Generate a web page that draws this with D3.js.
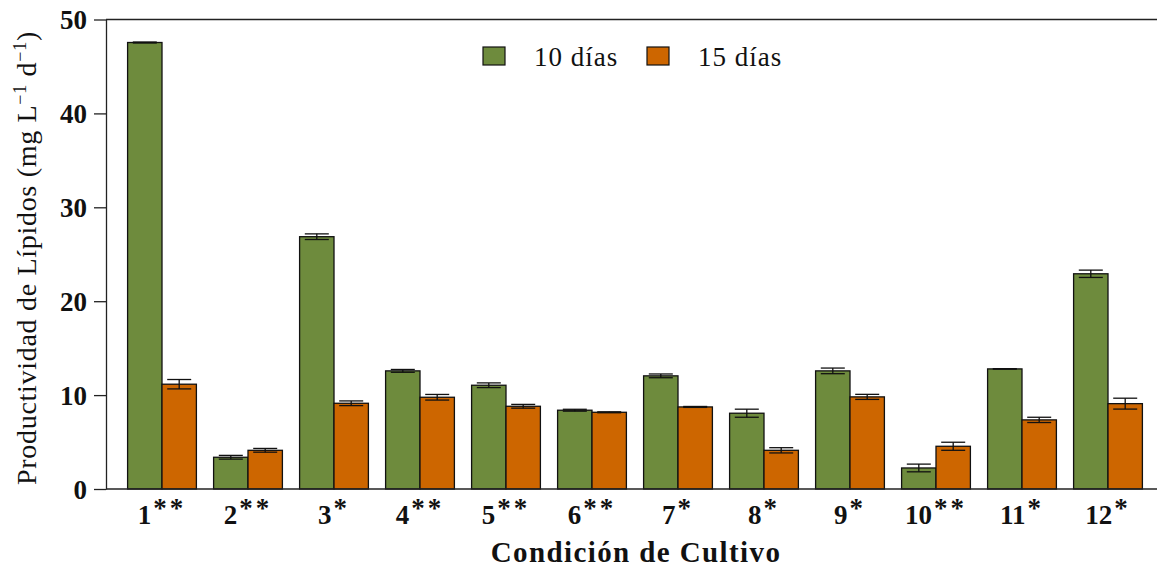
<!DOCTYPE html>
<html><head><meta charset="utf-8">
<script src="https://cdn.jsdelivr.net/npm/d3@7"></script>
<style>body{margin:0;background:#fff}svg{display:block}</style>
</head><body>
<svg id="c" width="1157" height="567"></svg>
<script>
const categories = ["1**","2**","3*","4**","5**","6**","7*","8*","9*","10**","11*","12*"];
const series = ["10 días","15 días"];
const values10 = [47.55,3.38,26.87,12.58,11.05,8.39,12.05,8.07,12.58,2.24,12.79,22.92];
const err10    = [0.05,0.2,0.3,0.15,0.25,0.1,0.2,0.43,0.3,0.41,0.03,0.39];
const values15 = [11.16,4.12,9.13,9.77,8.81,8.17,8.74,4.12,9.81,4.55,7.36,9.09];
const err15    = [0.5,0.2,0.25,0.3,0.2,0.05,0.05,0.28,0.27,0.43,0.28,0.58];
const yTicks = [0,10,20,30,40,50];
const colors = ["#6E8B3D","#CD6600"];
const FONT = "Liberation Serif, serif";

const svg = d3.select("#c");
const L = 106, R = 1160, T = 19.5, B = 489;
const y = d3.scaleLinear().domain([0,50]).range([B,T]);
const x = d3.scaleBand().domain(categories).range([119,1151]).paddingInner(0.2).paddingOuter(0.1);
const xs = d3.scaleBand().domain(series).range([0,x.bandwidth()]);

const data = categories.map((c,i)=>({c, vals:[{s:series[0],v:values10[i],e:err10[i]},{s:series[1],v:values15[i],e:err15[i]}]}));

const g = svg.selectAll("g.grp").data(data).join("g").attr("transform",d=>`translate(${x(d.c)},0)`);
g.selectAll("rect").data(d=>d.vals).join("rect")
  .attr("x",d=>xs(d.s)).attr("width",xs.bandwidth())
  .attr("y",d=>y(d.v)).attr("height",d=>B-y(d.v))
  .attr("fill",(d,i)=>colors[i]).attr("stroke","#111").attr("stroke-width",1.3);
const eb = g.selectAll("g.eb").data(d=>d.vals).join("g").attr("class","eb");
const cap = 12;
const cx = d=>xs(d.s)+xs.bandwidth()/2;
eb.append("line").attr("x1",cx).attr("x2",cx)
  .attr("y1",d=>y(d.v+d.e)).attr("y2",d=>y(d.v-d.e)).attr("stroke","#111").attr("stroke-width",1.3);
eb.append("line").attr("x1",d=>cx(d)-cap).attr("x2",d=>cx(d)+cap)
  .attr("y1",d=>y(d.v+d.e)).attr("y2",d=>y(d.v+d.e)).attr("stroke","#111").attr("stroke-width",1.3);
eb.append("line").attr("x1",d=>cx(d)-cap).attr("x2",d=>cx(d)+cap)
  .attr("y1",d=>y(d.v-d.e)).attr("y2",d=>y(d.v-d.e)).attr("stroke","#111").attr("stroke-width",1.3);

// frame lines
svg.append("line").attr("x1",L).attr("x2",R).attr("y1",T).attr("y2",T).attr("stroke","#222").attr("stroke-width",1.3);
svg.append("line").attr("x1",L).attr("x2",R).attr("y1",B).attr("y2",B).attr("stroke","#222").attr("stroke-width",1.3);

// y axis
const ya = svg.append("g").attr("transform",`translate(${L},0)`)
  .call(d3.axisLeft(y).tickValues(yTicks).tickSize(12).tickPadding(7).tickSizeOuter(0));
ya.select(".domain").attr("stroke","#222").attr("stroke-width",1.3);
ya.selectAll(".tick line").attr("stroke","#222").attr("stroke-width",1.3);
ya.selectAll(".tick text").attr("font-family",FONT).attr("font-weight","bold")
  .attr("font-size",27).attr("fill","#111").attr("dy","0.34em");

// x axis labels
const xa = svg.append("g").attr("transform",`translate(0,${B})`)
  .call(d3.axisBottom(x).tickSize(0).tickPadding(16));
xa.select(".domain").remove();
xa.selectAll(".tick text").each(function(d){
  const t = d3.select(this).text("");
  const m = d.match(/^(\d+)(\**)$/);
  t.attr("font-family",FONT).attr("font-weight","bold").attr("font-size",27).attr("fill","#111");
  t.append("tspan").text(m[1]);
  t.append("tspan").attr("dx",2).attr("dy",-7).attr("letter-spacing",3).text(m[2]);
});

// axis titles
svg.append("text").attr("x",636).attr("y",562).attr("text-anchor","middle")
  .attr("font-family",FONT).attr("font-weight","bold").attr("font-size",29).attr("letter-spacing",1.4).attr("fill","#111")
  .text("Condición de Cultivo");
const yt = svg.append("text").attr("transform","translate(36,258) rotate(-90)").attr("text-anchor","middle")
  .attr("font-family",FONT).attr("font-size",28).attr("letter-spacing",0.7).attr("fill","#111");
yt.append("tspan").text("Productividad de Lípidos (mg L");
yt.append("tspan").attr("dy",-10).attr("font-size",18).text("−1");
yt.append("tspan").attr("dy",10).text(" d");
yt.append("tspan").attr("dy",-10).attr("font-size",18).text("−1");
yt.append("tspan").attr("dy",10).text(")");

// legend
const lg = svg.append("g");
const lx = [483,647];
series.forEach((s,i)=>{
  lg.append("rect").attr("x",lx[i]).attr("y",47).attr("width",22).attr("height",18)
    .attr("fill",colors[i]).attr("stroke","#111").attr("stroke-width",1.2);
  lg.append("text").attr("x",lx[i]+51).attr("y",66).attr("font-family",FONT)
    .attr("font-size",27).attr("letter-spacing",1).attr("fill","#111").text(s);
});
</script>
</body></html>
